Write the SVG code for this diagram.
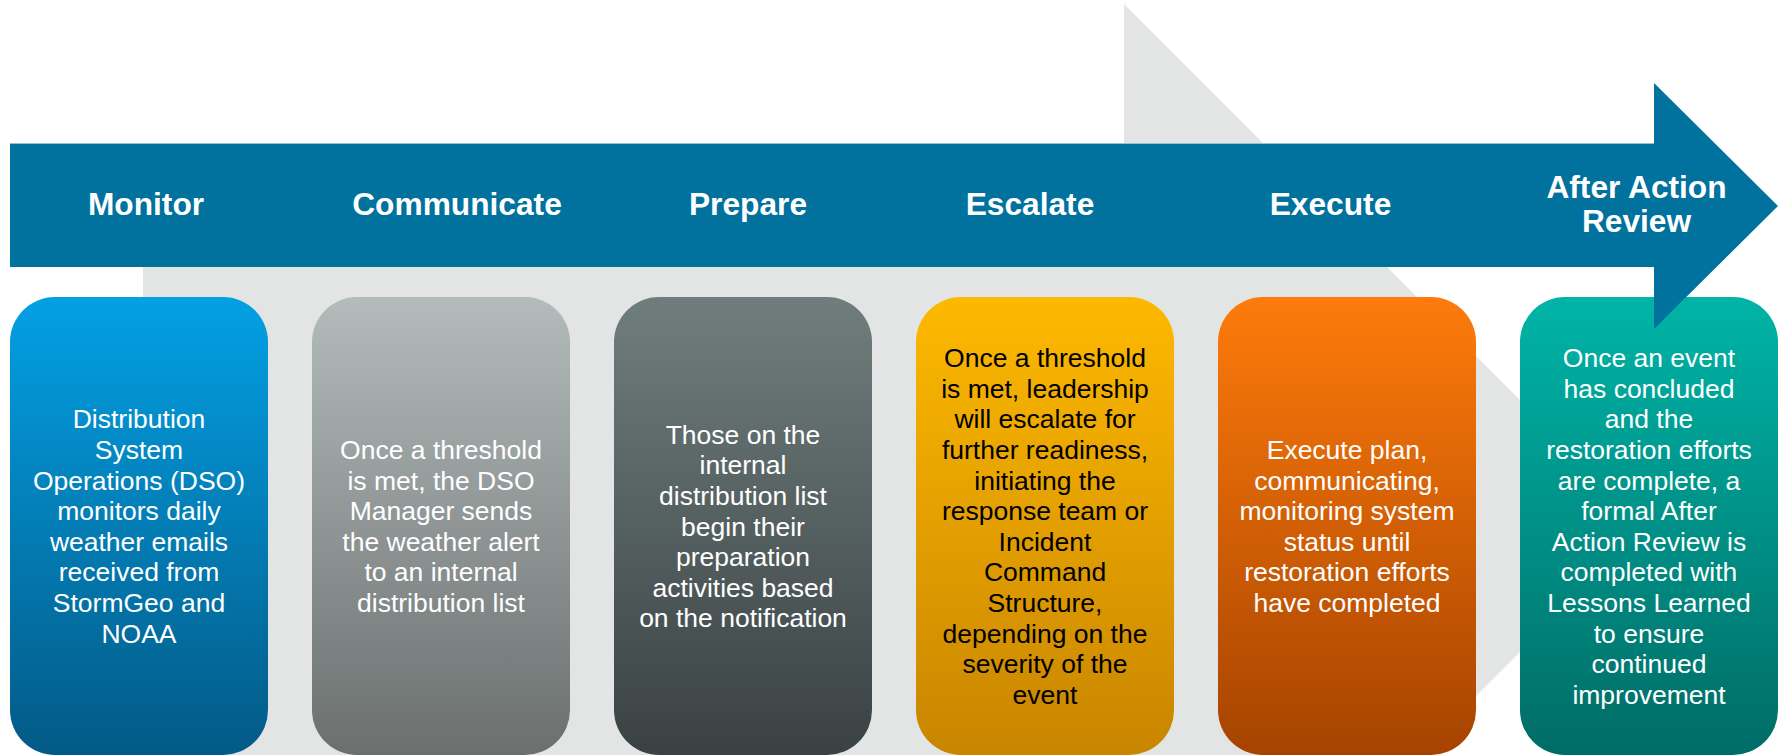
<svg xmlns="http://www.w3.org/2000/svg" width="1783" height="755" viewBox="0 0 1783 755">
<style>
.hdr{font-family:"Liberation Sans",Arial,sans-serif;font-weight:bold;font-size:31.7px;fill:#ffffff;text-anchor:middle}
.body{font-family:"Liberation Sans",Arial,sans-serif;font-size:26.5px;fill:#ffffff;text-anchor:middle}
.dark{fill:#000000}
</style>
<defs>
<linearGradient id="g1" x1="0" y1="0" x2="0" y2="1"><stop offset="0" stop-color="#03a0e4"/><stop offset="1" stop-color="#035a86"/></linearGradient>
<linearGradient id="g2" x1="0" y1="0" x2="0" y2="1"><stop offset="0" stop-color="#b3bbbb"/><stop offset="1" stop-color="#6b706f"/></linearGradient>
<linearGradient id="g3" x1="0" y1="0" x2="0" y2="1"><stop offset="0" stop-color="#6f7e7c"/><stop offset="1" stop-color="#3a4143"/></linearGradient>
<linearGradient id="g4" x1="0" y1="0" x2="0" y2="1"><stop offset="0" stop-color="#fdb900"/><stop offset="1" stop-color="#c88500"/></linearGradient>
<linearGradient id="g5" x1="0" y1="0" x2="0" y2="1"><stop offset="0" stop-color="#fe7b0b"/><stop offset="1" stop-color="#a64300"/></linearGradient>
<linearGradient id="g6" x1="0" y1="0" x2="0" y2="1"><stop offset="0" stop-color="#00b4a7"/><stop offset="1" stop-color="#006c66"/></linearGradient>
</defs>
<rect width="1783" height="755" fill="#ffffff"/>
<g id="background-arrow">
<path d="M143 220 L1124 220 L1124 4 L1646 526 L1124 1048 L1124 800 L143 800 Z" fill="#e3e5e5"/>
</g>
<g id="main-arrow">
<path d="M10 143 L1654 143 L1654 83 L1778 206 L1654 329 L1654 267 L10 267 Z" fill="#01719e"/>
<line x1="10" y1="143.5" x2="1654" y2="143.5" stroke="#9dbccd" stroke-width="1"/>
</g>
<g id="headers">
<text class="hdr" x="146" y="215">Monitor</text>
<text class="hdr" x="457" y="215">Communicate</text>
<text class="hdr" x="748" y="215">Prepare</text>
<text class="hdr" x="1030" y="215">Escalate</text>
<text class="hdr" x="1330.5" y="215">Execute</text>
<text class="hdr" x="1636.5" y="198">After Action</text>
<text class="hdr" x="1636.5" y="232">Review</text>
</g>
<g id="node-monitor">
<rect x="10" y="297" width="258" height="458" rx="45" fill="url(#g1)"/>
<text class="body" x="139" y="428.4">
<tspan x="139">Distribution</tspan><tspan x="139" dy="30.6">System</tspan><tspan x="139" dy="30.6">Operations (DSO)</tspan><tspan x="139" dy="30.6">monitors daily</tspan><tspan x="139" dy="30.6">weather emails</tspan><tspan x="139" dy="30.6">received from</tspan><tspan x="139" dy="30.6">StormGeo and</tspan><tspan x="139" dy="30.6">NOAA</tspan>
</text>
</g>
<g id="node-communicate">
<rect x="312" y="297" width="258" height="458" rx="45" fill="url(#g2)"/>
<text class="body" x="441" y="459">
<tspan x="441">Once a threshold</tspan><tspan x="441" dy="30.6">is met, the DSO</tspan><tspan x="441" dy="30.6">Manager sends</tspan><tspan x="441" dy="30.6">the weather alert</tspan><tspan x="441" dy="30.6">to an internal</tspan><tspan x="441" dy="30.6">distribution list</tspan>
</text>
</g>
<g id="node-prepare">
<rect x="614" y="297" width="258" height="458" rx="45" fill="url(#g3)"/>
<text class="body" x="743" y="443.7">
<tspan x="743">Those on the</tspan><tspan x="743" dy="30.6">internal</tspan><tspan x="743" dy="30.6">distribution list</tspan><tspan x="743" dy="30.6">begin their</tspan><tspan x="743" dy="30.6">preparation</tspan><tspan x="743" dy="30.6">activities based</tspan><tspan x="743" dy="30.6">on the notification</tspan>
</text>
</g>
<g id="node-escalate">
<rect x="916" y="297" width="258" height="458" rx="45" fill="url(#g4)"/>
<text class="body dark" x="1045" y="367.2">
<tspan x="1045">Once a threshold</tspan><tspan x="1045" dy="30.6">is met, leadership</tspan><tspan x="1045" dy="30.6">will escalate for</tspan><tspan x="1045" dy="30.6">further readiness,</tspan><tspan x="1045" dy="30.6">initiating the</tspan><tspan x="1045" dy="30.6">response team or</tspan><tspan x="1045" dy="30.6">Incident</tspan><tspan x="1045" dy="30.6">Command</tspan><tspan x="1045" dy="30.6">Structure,</tspan><tspan x="1045" dy="30.6">depending on the</tspan><tspan x="1045" dy="30.6">severity of the</tspan><tspan x="1045" dy="30.6">event</tspan>
</text>
</g>
<g id="node-execute">
<rect x="1218" y="297" width="258" height="458" rx="45" fill="url(#g5)"/>
<text class="body" x="1347" y="459">
<tspan x="1347">Execute plan,</tspan><tspan x="1347" dy="30.6">communicating,</tspan><tspan x="1347" dy="30.6">monitoring system</tspan><tspan x="1347" dy="30.6">status until</tspan><tspan x="1347" dy="30.6">restoration efforts</tspan><tspan x="1347" dy="30.6">have completed</tspan>
</text>
</g>
<g id="node-review">
<rect x="1520" y="297" width="258" height="458" rx="45" fill="url(#g6)"/>
<path d="M1654 297 L1654 329 L1686 297 Z" fill="#01719e"/>
<text class="body" x="1649" y="367.2">
<tspan x="1649">Once an event</tspan><tspan x="1649" dy="30.6">has concluded</tspan><tspan x="1649" dy="30.6">and the</tspan><tspan x="1649" dy="30.6">restoration efforts</tspan><tspan x="1649" dy="30.6">are complete, a</tspan><tspan x="1649" dy="30.6">formal After</tspan><tspan x="1649" dy="30.6">Action Review is</tspan><tspan x="1649" dy="30.6">completed with</tspan><tspan x="1649" dy="30.6">Lessons Learned</tspan><tspan x="1649" dy="30.6">to ensure</tspan><tspan x="1649" dy="30.6">continued</tspan><tspan x="1649" dy="30.6">improvement</tspan>
</text>
</g>
</svg>
